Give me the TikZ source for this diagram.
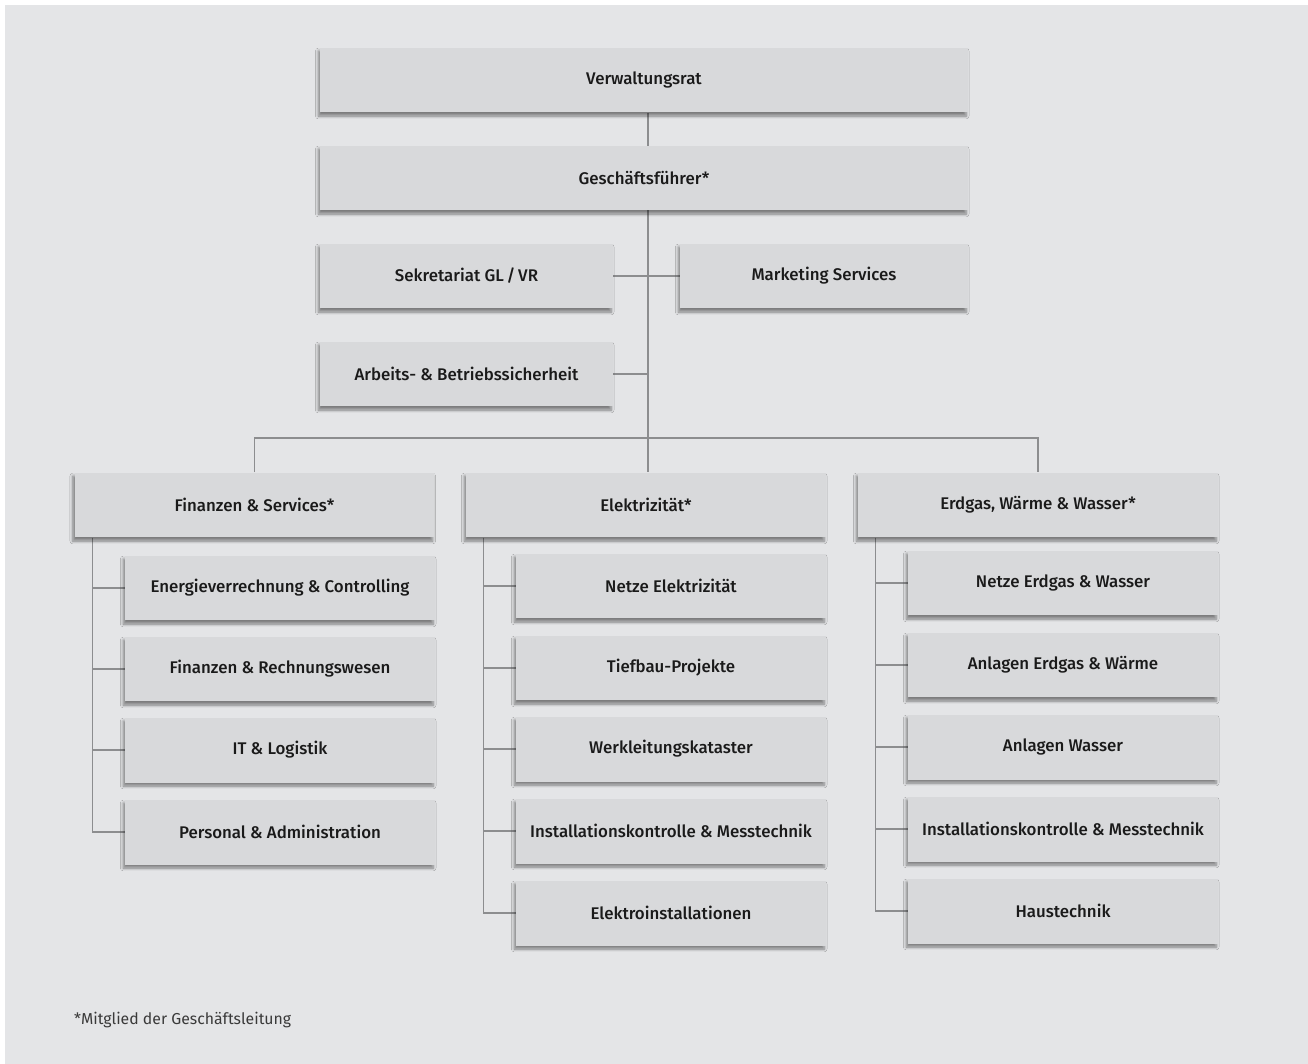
\documentclass[tikz,border=0pt]{standalone}
\usepackage{fontspec}
\setmainfont{Fira Sans}
\newfontfamily\labfont{Fira Sans}[UprightFont={* Medium}]
\usetikzlibrary{shadows.blur,backgrounds}
\definecolor{ink}{HTML}{1A1A1A}
\definecolor{paper}{HTML}{E4E5E7}
\definecolor{boxgray}{HTML}{D8D9DB}
\definecolor{wire}{HTML}{8C8D8F}
\definecolor{muted}{HTML}{3A3A3A}
\tikzset{unit/.style={fill=boxgray,inner sep=0pt,minimum height=1.3cm,text=ink,
  font=\labfont\fontsize{9.6}{12}\selectfont,
  blur shadow={shadow xshift=-1pt,shadow yshift=-2pt,shadow blur radius=1.6pt,
    shadow blur steps=6,shadow opacity=45}},
top/.style={unit,minimum width=12.96cm},
staff/.style={unit,minimum width=5.86cm},
div/.style={unit,minimum width=7.2cm},
sub/.style={unit,minimum width=6.2cm},
wire/.style={draw=wire,line width=0.7pt}}

\begin{document}
\begin{tikzpicture}[x=0.02cm,y=-0.02cm]
\useasboundingbox (0,0) rectangle (1308,1064);

% top levels
\node[top] (vr) at (644,80) {Verwaltungsrat};
\node[top] (gf) at (644,178) {Geschäftsführer*};
\node[staff] (sek) at (466.5,276) {Sekretariat GL\,/\,VR};
\node[staff,minimum width=5.76cm] (mkt) at (824,276) {Marketing Services};
\node[staff] (arb) at (466.5,374) {Arbeits- \& Betriebssicherheit};

% divisions
\node[div] (fin) at (254.5,505) {Finanzen \& Services*};
\node[div] (ele) at (646,505) {Elektrizität*};
\node[div] (erd) at (1038,505) {Erdgas, Wärme \& Wasser*};

% Finanzen & Services
\node[sub] (fin1) at (280,588) {Energieverrechnung \& Controlling};
\node[sub] (fin2) at (280,669) {Finanzen \& Rechnungswesen};
\node[sub] (fin3) at (280,750) {IT \& Logistik};
\node[sub] (fin4) at (280,832) {Personal \& Administration};

% Elektrizitaet
\node[sub] (ele1) at (671,586) {Netze Elektrizität};
\node[sub] (ele2) at (671,668) {Tiefbau-Projekte};
\node[sub] (ele3) at (671,749) {Werkleitungskataster};
\node[sub] (ele4) at (671,831) {Installationskontrolle \& Messtechnik};
\node[sub] (ele5) at (671,913) {Elektroinstallationen};

% Erdgas, Waerme & Wasser
\node[sub] (erd1) at (1063,583) {Netze Erdgas \& Wasser};
\node[sub] (erd2) at (1063,665) {Anlagen Erdgas \& Wärme};
\node[sub] (erd3) at (1063,747) {Anlagen Wasser};
\node[sub] (erd4) at (1063,829) {Installationskontrolle \& Messtechnik};
\node[sub] (erd5) at (1063,911) {Haustechnik};

\node[anchor=west,text=muted,font=\fontsize{9}{11}\selectfont] (note) at (68,1020) {*Mitglied der Geschäftsleitung};

% lines behind the boxes
\begin{scope}[on background layer]
\fill[white] (0,0) rectangle (1308,1064);
\fill[paper] (5,5) rectangle (1308,1064);
\coordinate (bar) at (648,438);
\draw[wire] (vr.south -| bar) -- (bar);
\draw[wire] (sek.east) -- (mkt.west);
\draw[wire] (arb.east) -- (arb.east -| bar);
\draw[wire] (fin.north) |- (bar) -| (erd.north);
\draw[wire] (bar) -- (bar |- ele.north);
\foreach \n in {fin1,fin2,fin3,fin4}
  \draw[wire] ([xshift=0.36cm]fin.south west) |- (\n.west);
\foreach \n in {ele1,ele2,ele3,ele4,ele5}
  \draw[wire] ([xshift=0.36cm]ele.south west) |- (\n.west);
\foreach \n in {erd1,erd2,erd3,erd4,erd5}
  \draw[wire] ([xshift=0.36cm]erd.south west) |- (\n.west);
\end{scope}
\end{tikzpicture}
\end{document}
